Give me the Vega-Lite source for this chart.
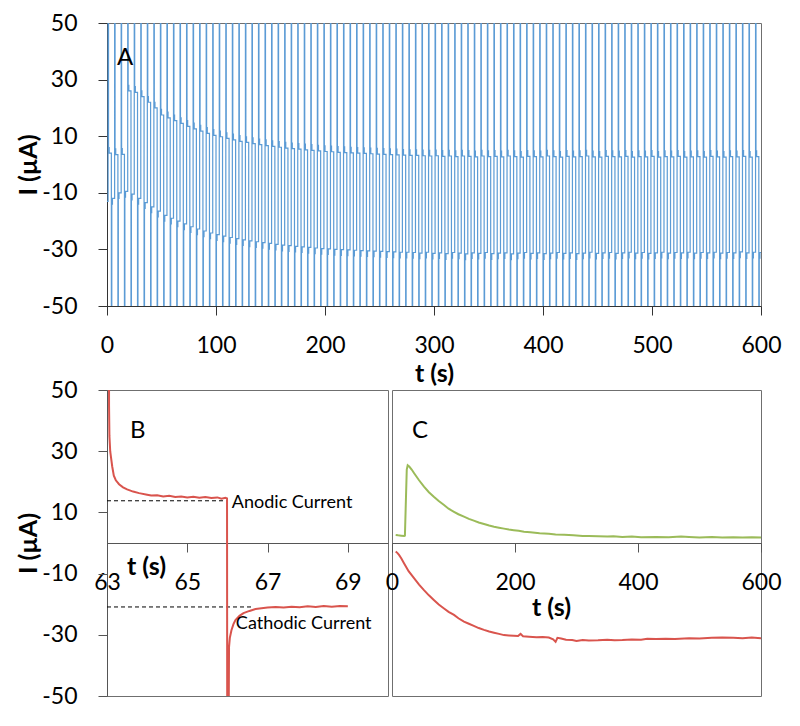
{
 "$schema": "https://vega.github.io/schema/vega-lite/v6.json",
 "background": "white",
 "padding": {"left": 15, "top": 11, "right": 20, "bottom": 5},
 "config": {
  "font": "Lato",
  "view": {"stroke": "#6f6f6f", "strokeWidth": 1},
  "axis": {"grid": false, "labelFont": "Lato", "labelFontSize": 23, "labelColor": "#000", "titleFont": "Lato", "titleFontSize": 25, "titleFontWeight": "bold", "titleColor": "#000", "domainColor": "#555", "tickColor": "#555", "tickSize": 9, "labelPadding": 19, "labelFlush": false, "labelOverlap": false, "labelExpr": "'' + datum.value"},
  "axisY": {"labelPadding": 21}
 },
 "datasets": {
  "A": [
{"t":0,"i":-13},
{"t":1,"i":60},{"t":1.4,"i":6},{"t":2,"i":4},
{"t":4,"i":-60},{"t":4.4,"i":-14},{"t":5,"i":-12},
{"t":7,"i":60},{"t":7.4,"i":5.5},{"t":8,"i":3.5},
{"t":10,"i":-60},{"t":10.4,"i":-12},{"t":11,"i":-10},
{"t":13,"i":60},{"t":13.4,"i":5.6},{"t":14,"i":3.6},
{"t":16,"i":-60},{"t":16.4,"i":-11.5},{"t":17,"i":-9.5},
{"t":19,"i":60},{"t":19.4,"i":28},{"t":20,"i":26},
{"t":22,"i":-60},{"t":22.4,"i":-12.5},{"t":23,"i":-10.5},
{"t":25,"i":60},{"t":25.4,"i":27.5},{"t":26,"i":25.5},
{"t":28,"i":-60},{"t":28.4,"i":-14},{"t":29,"i":-12},
{"t":31,"i":60},{"t":31.4,"i":26},{"t":32,"i":24},
{"t":34,"i":-60},{"t":34.4,"i":-15.5},{"t":35,"i":-13.5},
{"t":37,"i":60},{"t":37.4,"i":24},{"t":38,"i":22},
{"t":40,"i":-60},{"t":40.4,"i":-17},{"t":41,"i":-15},
{"t":43,"i":60},{"t":43.4,"i":22},{"t":44,"i":20},
{"t":46,"i":-60},{"t":46.4,"i":-18.5},{"t":47,"i":-16.5},
{"t":49,"i":60},{"t":49.4,"i":19.5},{"t":50,"i":17.5},
{"t":52,"i":-60},{"t":52.4,"i":-20},{"t":53,"i":-18},
{"t":55,"i":60},{"t":55.4,"i":18.5},{"t":56,"i":16.5},
{"t":58,"i":-60},{"t":58.4,"i":-21},{"t":59,"i":-19},
{"t":61,"i":60},{"t":61.4,"i":17.5},{"t":62,"i":15.5},
{"t":64,"i":-60},{"t":64.4,"i":-22},{"t":65,"i":-20},
{"t":67,"i":60},{"t":67.4,"i":16.5},{"t":68,"i":14.5},
{"t":70,"i":-60},{"t":70.4,"i":-23},{"t":71,"i":-21},
{"t":73,"i":60},{"t":73.4,"i":15.5},{"t":74,"i":13.5},
{"t":76,"i":-60},{"t":76.4,"i":-24},{"t":77,"i":-22},
{"t":79,"i":60},{"t":79.4,"i":14.6},{"t":80,"i":12.6},
{"t":82,"i":-60},{"t":82.4,"i":-24.8},{"t":83,"i":-22.8},
{"t":85,"i":60},{"t":85.4,"i":13.8},{"t":86,"i":11.8},
{"t":88,"i":-60},{"t":88.4,"i":-25.5},{"t":89,"i":-23.5},
{"t":91,"i":60},{"t":91.4,"i":13},{"t":92,"i":11},
{"t":94,"i":-60},{"t":94.4,"i":-26.2},{"t":95,"i":-24.2},
{"t":97,"i":60},{"t":97.4,"i":12.3},{"t":98,"i":10.3},
{"t":100,"i":-60},{"t":100.4,"i":-26.8},{"t":101,"i":-24.8},
{"t":103,"i":60},{"t":103.4,"i":11.8},{"t":104,"i":9.8},
{"t":106,"i":-60},{"t":106.4,"i":-27.3},{"t":107,"i":-25.3},
{"t":109,"i":60},{"t":109.4,"i":11.2},{"t":110,"i":9.2},
{"t":112,"i":-60},{"t":112.4,"i":-27.8},{"t":113,"i":-25.8},
{"t":115,"i":60},{"t":115.4,"i":10.7},{"t":116,"i":8.7},
{"t":118,"i":-60},{"t":118.4,"i":-28.2},{"t":119,"i":-26.2},
{"t":121,"i":60},{"t":121.4,"i":10.2},{"t":122,"i":8.2},
{"t":124,"i":-60},{"t":124.4,"i":-28.6},{"t":125,"i":-26.6},
{"t":127,"i":60},{"t":127.4,"i":9.8},{"t":128,"i":7.8},
{"t":130,"i":-60},{"t":130.4,"i":-29},{"t":131,"i":-27},
{"t":133,"i":60},{"t":133.4,"i":9.4},{"t":134,"i":7.4},
{"t":136,"i":-60},{"t":136.4,"i":-29.3},{"t":137,"i":-27.3},
{"t":139,"i":60},{"t":139.4,"i":9},{"t":140,"i":7},
{"t":142,"i":-60},{"t":142.4,"i":-29.6},{"t":143,"i":-27.6},
{"t":145,"i":60},{"t":145.4,"i":8.7},{"t":146,"i":6.7},
{"t":148,"i":-60},{"t":148.4,"i":-29.9},{"t":149,"i":-27.9},
{"t":151,"i":60},{"t":151.4,"i":8.4},{"t":152,"i":6.4},
{"t":154,"i":-60},{"t":154.4,"i":-30.2},{"t":155,"i":-28.2},
{"t":157,"i":60},{"t":157.4,"i":8.1},{"t":158,"i":6.1},
{"t":160,"i":-60},{"t":160.4,"i":-30.5},{"t":161,"i":-28.5},
{"t":163,"i":60},{"t":163.4,"i":7.8},{"t":164,"i":5.8},
{"t":166,"i":-60},{"t":166.4,"i":-30.7},{"t":167,"i":-28.7},
{"t":169,"i":60},{"t":169.4,"i":7.6},{"t":170,"i":5.6},
{"t":172,"i":-60},{"t":172.4,"i":-30.9},{"t":173,"i":-28.9},
{"t":175,"i":60},{"t":175.4,"i":7.4},{"t":176,"i":5.4},
{"t":178,"i":-60},{"t":178.4,"i":-31.1},{"t":179,"i":-29.1},
{"t":181,"i":60},{"t":181.4,"i":7.2},{"t":182,"i":5.2},
{"t":184,"i":-60},{"t":184.4,"i":-31.3},{"t":185,"i":-29.3},
{"t":187,"i":60},{"t":187.4,"i":7},{"t":188,"i":5},
{"t":190,"i":-60},{"t":190.4,"i":-31.5},{"t":191,"i":-29.5},
{"t":193,"i":60},{"t":193.4,"i":6.8},{"t":194,"i":4.8},
{"t":196,"i":-60},{"t":196.4,"i":-31.7},{"t":197,"i":-29.7},
{"t":199,"i":60},{"t":199.4,"i":6.6},{"t":200,"i":4.6},
{"t":202,"i":-60},{"t":202.4,"i":-31.8},{"t":203,"i":-29.8},
{"t":205,"i":60},{"t":205.4,"i":6.5},{"t":206,"i":4.5},
{"t":208,"i":-60},{"t":208.4,"i":-32},{"t":209,"i":-30},
{"t":211,"i":60},{"t":211.4,"i":6.3},{"t":212,"i":4.3},
{"t":214,"i":-60},{"t":214.4,"i":-32.1},{"t":215,"i":-30.1},
{"t":217,"i":60},{"t":217.4,"i":6.2},{"t":218,"i":4.2},
{"t":220,"i":-60},{"t":220.4,"i":-32.2},{"t":221,"i":-30.2},
{"t":223,"i":60},{"t":223.4,"i":6.1},{"t":224,"i":4.1},
{"t":226,"i":-60},{"t":226.4,"i":-32.3},{"t":227,"i":-30.3},
{"t":229,"i":60},{"t":229.4,"i":6},{"t":230,"i":4},
{"t":232,"i":-60},{"t":232.4,"i":-32.4},{"t":233,"i":-30.4},
{"t":235,"i":60},{"t":235.4,"i":5.9},{"t":236,"i":3.9},
{"t":238,"i":-60},{"t":238.4,"i":-32.5},{"t":239,"i":-30.5},
{"t":241,"i":60},{"t":241.4,"i":5.8},{"t":242,"i":3.8},
{"t":244,"i":-60},{"t":244.4,"i":-32.6},{"t":245,"i":-30.6},
{"t":247,"i":60},{"t":247.4,"i":5.7},{"t":248,"i":3.7},
{"t":250,"i":-60},{"t":250.4,"i":-32.7},{"t":251,"i":-30.7},
{"t":253,"i":60},{"t":253.4,"i":5.6},{"t":254,"i":3.6},
{"t":256,"i":-60},{"t":256.4,"i":-32.8},{"t":257,"i":-30.8},
{"t":259,"i":60},{"t":259.4,"i":5.5},{"t":260,"i":3.5},
{"t":262,"i":-60},{"t":262.4,"i":-32.9},{"t":263,"i":-30.9},
{"t":265,"i":60},{"t":265.4,"i":5.4},{"t":266,"i":3.4},
{"t":268,"i":-60},{"t":268.4,"i":-33},{"t":269,"i":-31},
{"t":271,"i":60},{"t":271.4,"i":5.3},{"t":272,"i":3.3},
{"t":274,"i":-60},{"t":274.4,"i":-33},{"t":275,"i":-31},
{"t":277,"i":60},{"t":277.4,"i":5.2},{"t":278,"i":3.2},
{"t":280,"i":-60},{"t":280.4,"i":-33.1},{"t":281,"i":-31.1},
{"t":283,"i":60},{"t":283.4,"i":5.2},{"t":284,"i":3.2},
{"t":286,"i":-60},{"t":286.4,"i":-33.3},{"t":287,"i":-31.3},
{"t":289,"i":60},{"t":289.4,"i":5.1},{"t":290,"i":3.1},
{"t":292,"i":-60},{"t":292.4,"i":-33},{"t":293,"i":-31},
{"t":295,"i":60},{"t":295.4,"i":5},{"t":296,"i":3},
{"t":298,"i":-60},{"t":298.4,"i":-33.4},{"t":299,"i":-31.4},
{"t":301,"i":60},{"t":301.4,"i":5.1},{"t":302,"i":3.1},
{"t":304,"i":-60},{"t":304.4,"i":-33.2},{"t":305,"i":-31.2},
{"t":307,"i":60},{"t":307.4,"i":4.9},{"t":308,"i":2.9},
{"t":310,"i":-60},{"t":310.4,"i":-33.5},{"t":311,"i":-31.5},
{"t":313,"i":60},{"t":313.4,"i":5},{"t":314,"i":3},
{"t":316,"i":-60},{"t":316.4,"i":-33.1},{"t":317,"i":-31.1},
{"t":319,"i":60},{"t":319.4,"i":4.8},{"t":320,"i":2.8},
{"t":322,"i":-60},{"t":322.4,"i":-33.3},{"t":323,"i":-31.3},
{"t":325,"i":60},{"t":325.4,"i":5},{"t":326,"i":3},
{"t":328,"i":-60},{"t":328.4,"i":-33.6},{"t":329,"i":-31.6},
{"t":331,"i":60},{"t":331.4,"i":4.9},{"t":332,"i":2.9},
{"t":334,"i":-60},{"t":334.4,"i":-33.2},{"t":335,"i":-31.2},
{"t":337,"i":60},{"t":337.4,"i":4.7},{"t":338,"i":2.7},
{"t":340,"i":-60},{"t":340.4,"i":-33.4},{"t":341,"i":-31.4},
{"t":343,"i":60},{"t":343.4,"i":5},{"t":344,"i":3},
{"t":346,"i":-60},{"t":346.4,"i":-33.1},{"t":347,"i":-31.1},
{"t":349,"i":60},{"t":349.4,"i":4.8},{"t":350,"i":2.8},
{"t":352,"i":-60},{"t":352.4,"i":-33.5},{"t":353,"i":-31.5},
{"t":355,"i":60},{"t":355.4,"i":4.9},{"t":356,"i":2.9},
{"t":358,"i":-60},{"t":358.4,"i":-33.3},{"t":359,"i":-31.3},
{"t":361,"i":60},{"t":361.4,"i":4.7},{"t":362,"i":2.7},
{"t":364,"i":-60},{"t":364.4,"i":-33.2},{"t":365,"i":-31.2},
{"t":367,"i":60},{"t":367.4,"i":5},{"t":368,"i":3},
{"t":370,"i":-60},{"t":370.4,"i":-33.6},{"t":371,"i":-31.6},
{"t":373,"i":60},{"t":373.4,"i":4.8},{"t":374,"i":2.8},
{"t":376,"i":-60},{"t":376.4,"i":-33.3},{"t":377,"i":-31.3},
{"t":379,"i":60},{"t":379.4,"i":4.6},{"t":380,"i":2.6},
{"t":382,"i":-60},{"t":382.4,"i":-33.1},{"t":383,"i":-31.1},
{"t":385,"i":60},{"t":385.4,"i":4.9},{"t":386,"i":2.9},
{"t":388,"i":-60},{"t":388.4,"i":-33.4},{"t":389,"i":-31.4},
{"t":391,"i":60},{"t":391.4,"i":4.8},{"t":392,"i":2.8},
{"t":394,"i":-60},{"t":394.4,"i":-33.2},{"t":395,"i":-31.2},
{"t":397,"i":60},{"t":397.4,"i":4.7},{"t":398,"i":2.7},
{"t":400,"i":-60},{"t":400.4,"i":-33.5},{"t":401,"i":-31.5},
{"t":403,"i":60},{"t":403.4,"i":5},{"t":404,"i":3},
{"t":406,"i":-60},{"t":406.4,"i":-33.3},{"t":407,"i":-31.3},
{"t":409,"i":60},{"t":409.4,"i":4.8},{"t":410,"i":2.8},
{"t":412,"i":-60},{"t":412.4,"i":-33.1},{"t":413,"i":-31.1},
{"t":415,"i":60},{"t":415.4,"i":4.6},{"t":416,"i":2.6},
{"t":418,"i":-60},{"t":418.4,"i":-33.4},{"t":419,"i":-31.4},
{"t":421,"i":60},{"t":421.4,"i":4.9},{"t":422,"i":2.9},
{"t":424,"i":-60},{"t":424.4,"i":-33.2},{"t":425,"i":-31.2},
{"t":427,"i":60},{"t":427.4,"i":4.7},{"t":428,"i":2.7},
{"t":430,"i":-60},{"t":430.4,"i":-33.5},{"t":431,"i":-31.5},
{"t":433,"i":60},{"t":433.4,"i":4.8},{"t":434,"i":2.8},
{"t":436,"i":-60},{"t":436.4,"i":-33.3},{"t":437,"i":-31.3},
{"t":439,"i":60},{"t":439.4,"i":5},{"t":440,"i":3},
{"t":442,"i":-60},{"t":442.4,"i":-33},{"t":443,"i":-31},
{"t":445,"i":60},{"t":445.4,"i":4.7},{"t":446,"i":2.7},
{"t":448,"i":-60},{"t":448.4,"i":-33.4},{"t":449,"i":-31.4},
{"t":451,"i":60},{"t":451.4,"i":4.6},{"t":452,"i":2.6},
{"t":454,"i":-60},{"t":454.4,"i":-33.2},{"t":455,"i":-31.2},
{"t":457,"i":60},{"t":457.4,"i":4.9},{"t":458,"i":2.9},
{"t":460,"i":-60},{"t":460.4,"i":-33.1},{"t":461,"i":-31.1},
{"t":463,"i":60},{"t":463.4,"i":4.8},{"t":464,"i":2.8},
{"t":466,"i":-60},{"t":466.4,"i":-33.4},{"t":467,"i":-31.4},
{"t":469,"i":60},{"t":469.4,"i":4.7},{"t":470,"i":2.7},
{"t":472,"i":-60},{"t":472.4,"i":-33.2},{"t":473,"i":-31.2},
{"t":475,"i":60},{"t":475.4,"i":4.9},{"t":476,"i":2.9},
{"t":478,"i":-60},{"t":478.4,"i":-33},{"t":479,"i":-31},
{"t":481,"i":60},{"t":481.4,"i":4.6},{"t":482,"i":2.6},
{"t":484,"i":-60},{"t":484.4,"i":-33.3},{"t":485,"i":-31.3},
{"t":487,"i":60},{"t":487.4,"i":4.8},{"t":488,"i":2.8},
{"t":490,"i":-60},{"t":490.4,"i":-33.1},{"t":491,"i":-31.1},
{"t":493,"i":60},{"t":493.4,"i":4.7},{"t":494,"i":2.7},
{"t":496,"i":-60},{"t":496.4,"i":-33.4},{"t":497,"i":-31.4},
{"t":499,"i":60},{"t":499.4,"i":4.9},{"t":500,"i":2.9},
{"t":502,"i":-60},{"t":502.4,"i":-33.2},{"t":503,"i":-31.2},
{"t":505,"i":60},{"t":505.4,"i":4.6},{"t":506,"i":2.6},
{"t":508,"i":-60},{"t":508.4,"i":-33},{"t":509,"i":-31},
{"t":511,"i":60},{"t":511.4,"i":4.8},{"t":512,"i":2.8},
{"t":514,"i":-60},{"t":514.4,"i":-33.3},{"t":515,"i":-31.3},
{"t":517,"i":60},{"t":517.4,"i":4.7},{"t":518,"i":2.7},
{"t":520,"i":-60},{"t":520.4,"i":-33.1},{"t":521,"i":-31.1},
{"t":523,"i":60},{"t":523.4,"i":4.9},{"t":524,"i":2.9},
{"t":526,"i":-60},{"t":526.4,"i":-33.2},{"t":527,"i":-31.2},
{"t":529,"i":60},{"t":529.4,"i":4.6},{"t":530,"i":2.6},
{"t":532,"i":-60},{"t":532.4,"i":-33},{"t":533,"i":-31},
{"t":535,"i":60},{"t":535.4,"i":4.7},{"t":536,"i":2.7},
{"t":538,"i":-60},{"t":538.4,"i":-33.3},{"t":539,"i":-31.3},
{"t":541,"i":60},{"t":541.4,"i":4.8},{"t":542,"i":2.8},
{"t":544,"i":-60},{"t":544.4,"i":-33.1},{"t":545,"i":-31.1},
{"t":547,"i":60},{"t":547.4,"i":4.6},{"t":548,"i":2.6},
{"t":550,"i":-60},{"t":550.4,"i":-33.2},{"t":551,"i":-31.2},
{"t":553,"i":60},{"t":553.4,"i":4.9},{"t":554,"i":2.9},
{"t":556,"i":-60},{"t":556.4,"i":-33},{"t":557,"i":-31},
{"t":559,"i":60},{"t":559.4,"i":4.7},{"t":560,"i":2.7},
{"t":562,"i":-60},{"t":562.4,"i":-33.3},{"t":563,"i":-31.3},
{"t":565,"i":60},{"t":565.4,"i":4.6},{"t":566,"i":2.6},
{"t":568,"i":-60},{"t":568.4,"i":-33.1},{"t":569,"i":-31.1},
{"t":571,"i":60},{"t":571.4,"i":4.8},{"t":572,"i":2.8},
{"t":574,"i":-60},{"t":574.4,"i":-33.2},{"t":575,"i":-31.2},
{"t":577,"i":60},{"t":577.4,"i":4.7},{"t":578,"i":2.7},
{"t":580,"i":-60},{"t":580.4,"i":-32.9},{"t":581,"i":-30.9},
{"t":583,"i":60},{"t":583.4,"i":4.9},{"t":584,"i":2.9},
{"t":586,"i":-60},{"t":586.4,"i":-33.2},{"t":587,"i":-31.2},
{"t":589,"i":60},{"t":589.4,"i":4.6},{"t":590,"i":2.6},
{"t":592,"i":-60},{"t":592.4,"i":-33},{"t":593,"i":-31},
{"t":595,"i":60},{"t":595.4,"i":4.8},{"t":596,"i":2.8},
{"t":598,"i":-60},{"t":598.4,"i":-33.1},{"t":599,"i":-31.1},
{"t":600,"i":-31.1}
  ],
  "B": [
{"t":63.05,"i":60},{"t":63.051,"i":45},{"t":63.06,"i":35},{"t":63.08,"i":30},{"t":63.1,"i":28},{"t":63.13,"i":25},{"t":63.17,"i":22},{"t":63.22,"i":20.5},{"t":63.3,"i":19.2},{"t":63.4,"i":18.2},{"t":63.5,"i":17.5},{"t":63.65,"i":16.8},{"t":63.8,"i":16.3},{"t":64.0,"i":15.8},{"t":64.1,"i":15.5},{"t":64.25,"i":15.6},{"t":64.4,"i":15.2},{"t":64.55,"i":15.4},{"t":64.7,"i":15},{"t":64.85,"i":15.2},{"t":65.0,"i":14.9},{"t":65.15,"i":15.1},{"t":65.3,"i":14.8},{"t":65.45,"i":15},{"t":65.6,"i":14.7},{"t":65.75,"i":14.9},{"t":65.85,"i":14.5},{"t":65.95,"i":14.8},{"t":65.99,"i":14.6},{"t":65.995,"i":-60},{"t":66.03,"i":-60},{"t":66.04,"i":-34},{"t":66.06,"i":-31},{"t":66.1,"i":-28.5},{"t":66.15,"i":-26.5},{"t":66.2,"i":-25.2},{"t":66.3,"i":-23.8},{"t":66.4,"i":-22.9},{"t":66.55,"i":-22.2},{"t":66.7,"i":-21.6},{"t":66.85,"i":-21.3},{"t":67.0,"i":-21.1},{"t":67.2,"i":-20.9},{"t":67.4,"i":-21.1},{"t":67.6,"i":-20.8},{"t":67.8,"i":-21},{"t":68.0,"i":-20.7},{"t":68.2,"i":-20.9},{"t":68.4,"i":-20.6},{"t":68.6,"i":-20.8},{"t":68.8,"i":-20.6},{"t":69.0,"i":-20.7}
  ],
  "Bdash": [{"t":63,"t2":65.9,"i":13.8},{"t":63,"t2":66.65,"i":-20.9}],
  "Bnote": [{"t":66.11,"i":13.1,"label":"Anodic Current"},{"t":66.21,"i":-26.5,"label":"Cathodic Current"}],
  "Aletter": [{"t":9.2,"i":35.3,"label":"A"}],
  "Bletter": [{"t":63.57,"i":34.3,"label":"B"}],
  "Cletter": [{"t":32.5,"i":34.3,"label":"C"}],
  "Cg": [
{"t":6,"i":2.6},{"t":10,"i":2.5},{"t":15,"i":2.4},{"t":20,"i":2.3},{"t":21,"i":2.4},{"t":24,"i":24},{"t":25.5,"i":25.4},{"t":28,"i":25},{"t":32,"i":24},{"t":36,"i":22.8},{"t":44,"i":20.5},{"t":52,"i":18.4},{"t":60,"i":16.6},{"t":68,"i":15.1},{"t":76,"i":13.7},{"t":84.6,"i":12.4},{"t":92,"i":11.2},{"t":100.8,"i":10.2},{"t":108,"i":9.4},{"t":117,"i":8.6},{"t":125,"i":7.9},{"t":133,"i":7.3},{"t":141,"i":6.7},{"t":149.6,"i":6.2},{"t":158,"i":5.7},{"t":165.9,"i":5.3},{"t":174,"i":5},{"t":182,"i":4.7},{"t":190,"i":4.4},{"t":198,"i":4.2},{"t":206,"i":4},{"t":214.6,"i":3.7},{"t":225,"i":3.5},{"t":240,"i":3.2},{"t":255,"i":3},{"t":266,"i":2.8},{"t":280,"i":2.7},{"t":295,"i":2.5},{"t":310,"i":2.3},{"t":320,"i":2.3},{"t":335,"i":2.2},{"t":350,"i":2.1},{"t":360,"i":2.2},{"t":374.6,"i":2},{"t":390,"i":2.1},{"t":405,"i":1.9},{"t":429,"i":2},{"t":450,"i":1.9},{"t":470,"i":2.1},{"t":483,"i":2},{"t":500,"i":1.8},{"t":520,"i":2},{"t":537,"i":1.8},{"t":555,"i":1.9},{"t":570,"i":1.8},{"t":585,"i":1.9},{"t":600,"i":1.8}
  ],
  "Cr": [
{"t":6,"i":-2.8},{"t":9,"i":-3.3},{"t":11.4,"i":-3.9},{"t":15,"i":-5},{"t":19.5,"i":-6.6},{"t":27,"i":-9.2},{"t":35.8,"i":-11.5},{"t":44,"i":-13.6},{"t":52,"i":-15.4},{"t":60,"i":-17.1},{"t":68,"i":-18.6},{"t":76,"i":-20.1},{"t":84.6,"i":-21.4},{"t":92,"i":-22.5},{"t":100.8,"i":-23.5},{"t":108,"i":-24.6},{"t":117,"i":-25.7},{"t":125,"i":-26.4},{"t":133,"i":-27.1},{"t":141,"i":-27.8},{"t":149.6,"i":-28.4},{"t":158,"i":-28.9},{"t":165.9,"i":-29.3},{"t":174,"i":-29.7},{"t":182,"i":-30.1},{"t":190,"i":-30.2},{"t":198,"i":-30.3},{"t":205,"i":-30.4},{"t":209,"i":-29.7},{"t":213,"i":-30.5},{"t":222.8,"i":-30.6},{"t":235,"i":-30.8},{"t":245,"i":-30.7},{"t":255,"i":-30.9},{"t":262,"i":-31.5},{"t":266,"i":-32.3},{"t":269,"i":-31},{"t":275,"i":-31.2},{"t":283,"i":-31.6},{"t":293,"i":-31.7},{"t":300,"i":-32},{"t":310,"i":-31.7},{"t":320,"i":-31.9},{"t":335,"i":-31.8},{"t":350,"i":-31.6},{"t":362,"i":-31.8},{"t":374.6,"i":-31.7},{"t":390,"i":-31.5},{"t":405,"i":-31.6},{"t":415,"i":-31.3},{"t":429,"i":-31.4},{"t":445,"i":-31.3},{"t":460,"i":-31.4},{"t":483,"i":-31.1},{"t":500,"i":-31.2},{"t":520,"i":-31},{"t":537,"i":-30.9},{"t":555,"i":-31},{"t":570,"i":-31.1},{"t":585,"i":-30.9},{"t":600,"i":-31.1}
  ]
 },
 "bounds": "flush",
 "spacing": 84,
 "vconcat": [
  {
   "width": 654,
   "height": 283,
   "layer": [
    {
     "data": {"name": "A"},
     "mark": {"type": "line", "interpolate": "step-after", "clip": true, "color": "#5b9bd5", "strokeWidth": 1.2},
     "encoding": {
      "x": {"field": "t", "type": "quantitative", "scale": {"domain": [0, 600], "nice": false, "zero": false}, "axis": {"title": "t (s)", "values": [0, 100, 200, 300, 400, 500, 600], "titlePadding": 4, "domainColor": "#333", "tickColor": "#333"}},
      "y": {"field": "i", "type": "quantitative", "scale": {"domain": [-50, 50], "nice": false}, "axis": {"title": "I (µA)", "values": [-50, -30, -10, 10, 30, 50], "titleX": -66, "domainColor": "#333", "tickColor": "#333"}},
      "order": {"value": null}
     }
    },
    {
     "data": {"name": "Aletter"},
     "mark": {"type": "text", "align": "left", "baseline": "alphabetic", "fontSize": 24, "font": "Lato", "color": "#000"},
     "encoding": {"x": {"field": "t", "type": "quantitative"}, "y": {"field": "i", "type": "quantitative"}, "text": {"field": "label"}}
    }
   ]
  },
  {
   "bounds": "flush",
   "spacing": 4,
   "hconcat": [
    {
     "width": 281,
     "height": 306,
     "layer": [
      {
       "data": {"name": "Bdash"},
       "mark": {"type": "rule", "color": "#000", "strokeWidth": 1, "strokeDash": [4, 3]},
       "encoding": {
        "x": {"field": "t", "type": "quantitative", "scale": {"domain": [63, 70], "nice": false, "zero": false}, "axis": {"title": "t (s)", "values": [63, 65, 67, 69], "offset": -153, "titleX": 39, "titleY": 31, "titleBaseline": "alphabetic", "titleAlign": "center", "domainColor": "#555"}},
        "x2": {"field": "t2"},
        "y": {"field": "i", "type": "quantitative", "scale": {"domain": [-50, 50], "nice": false}, "axis": {"title": "I (µA)", "values": [-50, -30, -10, 10, 30, 50], "titleX": -66}}
       }
      },
      {
       "data": {"name": "B"},
       "mark": {"type": "line", "clip": true, "color": "#d9544d", "strokeWidth": 2},
       "encoding": {"x": {"field": "t", "type": "quantitative"}, "y": {"field": "i", "type": "quantitative"}, "order": {"value": null}}
      },
      {
       "data": {"name": "Bnote"},
       "mark": {"type": "text", "align": "left", "baseline": "middle", "fontSize": 18, "font": "Lato", "color": "#000"},
       "encoding": {"x": {"field": "t", "type": "quantitative"}, "y": {"field": "i", "type": "quantitative"}, "text": {"field": "label"}}
      },
      {
       "data": {"name": "Bletter"},
       "mark": {"type": "text", "align": "left", "baseline": "alphabetic", "fontSize": 24, "font": "Lato", "color": "#000"},
       "encoding": {"x": {"field": "t", "type": "quantitative"}, "y": {"field": "i", "type": "quantitative"}, "text": {"field": "label"}}
      }
     ]
    },
    {
     "width": 369,
     "height": 306,
     "layer": [
      {
       "data": {"name": "Cg"},
       "mark": {"type": "line", "clip": true, "color": "#9bbb59", "strokeWidth": 2},
       "encoding": {
        "x": {"field": "t", "type": "quantitative", "scale": {"domain": [0, 600], "nice": false, "zero": false}, "axis": {"title": "t (s)", "values": [0, 200, 400, 600], "offset": -153, "titleX": 159, "titleY": 72, "titleBaseline": "alphabetic", "titleAlign": "center", "domainColor": "#555"}},
        "y": {"field": "i", "type": "quantitative", "scale": {"domain": [-50, 50], "nice": false}, "axis": null}
       }
      },
      {
       "data": {"name": "Cr"},
       "mark": {"type": "line", "clip": true, "color": "#d9544d", "strokeWidth": 2},
       "encoding": {"x": {"field": "t", "type": "quantitative"}, "y": {"field": "i", "type": "quantitative"}}
      },
      {
       "data": {"name": "Cletter"},
       "mark": {"type": "text", "align": "left", "baseline": "alphabetic", "fontSize": 24, "font": "Lato", "color": "#000"},
       "encoding": {"x": {"field": "t", "type": "quantitative"}, "y": {"field": "i", "type": "quantitative"}, "text": {"field": "label"}}
      }
     ]
    }
   ]
  }
 ]
}
